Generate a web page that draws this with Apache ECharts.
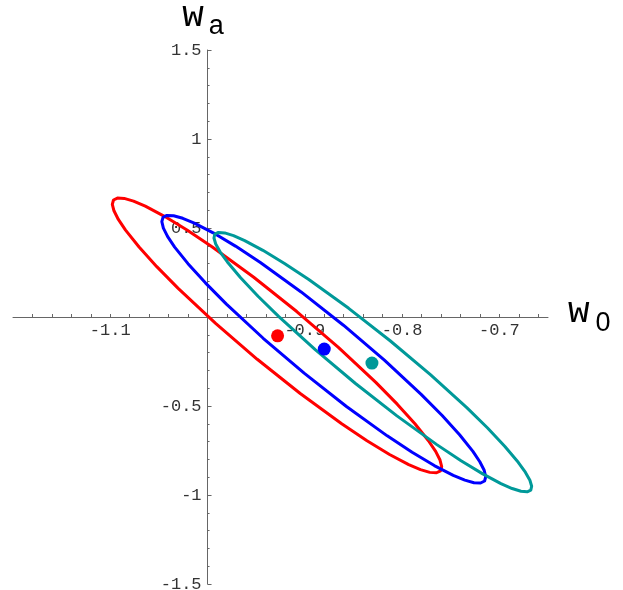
<!DOCTYPE html>
<html>
<head>
<meta charset="utf-8">
<script src="https://cdn.jsdelivr.net/npm/echarts@6/dist/echarts.min.js"></script>
<style>
  html, body { margin: 0; padding: 0; background: #fff; }
  #chart { width: 623px; height: 590px; }
</style>
</head>
<body>
<div id="chart"></div>
<script>
// axis ranges and ticks
const xMin = -1.2, xMax = -0.65
const yMin = -1.5, yMax = 1.5
const xTickLabels = [-1.1, -0.9, -0.8, -0.7]
const yTickLabels = [-1.5, -1, -0.5, 0.5, 1, 1.5]

// contours in the (w0, wa) plane
const redContour = [
    [-0.9489, -0.2376], [-0.9917, -0.0361], [-1.0302, 0.1607], [-1.0522, 0.2828],
    [-1.0704, 0.3931], [-1.0843, 0.4883], [-1.0917, 0.5480], [-1.0962, 0.5967],
    [-1.0979, 0.6333], [-1.0967, 0.6573], [-1.0926, 0.6683], [-1.0857, 0.6661],
    [-1.0761, 0.6508], [-1.0640, 0.6225], [-1.0443, 0.5656], [-1.0211, 0.4884],
    [-0.9951, 0.3932], [-0.9525, 0.2231], [-0.9083, 0.0308], [-0.8655, -0.1707],
    [-0.8270, -0.3675], [-0.8050, -0.4896], [-0.7868, -0.5999], [-0.7729, -0.6951],
    [-0.7655, -0.7548], [-0.7610, -0.8035], [-0.7593, -0.8401], [-0.7605, -0.8641],
    [-0.7646, -0.8751], [-0.7715, -0.8729], [-0.7811, -0.8576], [-0.7932, -0.8293],
    [-0.8129, -0.7724], [-0.8361, -0.6952], [-0.8621, -0.6000], [-0.9047, -0.4299],
    [-0.9489, -0.2376]
]
const blueContour = [
    [-0.9007, -0.3157], [-0.9428, -0.1195], [-0.9806, 0.0726], [-1.0022, 0.1918],
    [-1.0201, 0.2996], [-1.0338, 0.3929], [-1.0410, 0.4516], [-1.0454, 0.4994],
    [-1.0470, 0.5356], [-1.0458, 0.5595], [-1.0418, 0.5708], [-1.0349, 0.5692],
    [-1.0255, 0.5547], [-1.0136, 0.5277], [-0.9942, 0.4729], [-0.9713, 0.3983],
    [-0.9457, 0.3060], [-0.9038, 0.1409], [-0.8603, -0.0461], [-0.8182, -0.2423],
    [-0.7804, -0.4344], [-0.7588, -0.5536], [-0.7409, -0.6614], [-0.7272, -0.7547],
    [-0.7201, -0.8134], [-0.7156, -0.8612], [-0.7140, -0.8974], [-0.7152, -0.9213],
    [-0.7193, -0.9326], [-0.7261, -0.9310], [-0.7355, -0.9165], [-0.7474, -0.8895],
    [-0.7669, -0.8347], [-0.7897, -0.7601], [-0.8153, -0.6678], [-0.8572, -0.5027],
    [-0.9007, -0.3157]
]
const tealContour = [
    [-0.8479, -0.3735], [-0.8893, -0.1833], [-0.9267, 0.0021], [-0.9481, 0.1168],
    [-0.9660, 0.2203], [-0.9796, 0.3093], [-0.9870, 0.3650], [-0.9916, 0.4101],
    [-0.9934, 0.4439], [-0.9925, 0.4657], [-0.9888, 0.4752], [-0.9824, 0.4723],
    [-0.9733, 0.4569], [-0.9618, 0.4294], [-0.9431, 0.3747], [-0.9209, 0.3008],
    [-0.8959, 0.2102], [-0.8549, 0.0487], [-0.8123, -0.1333], [-0.7709, -0.3235],
    [-0.7335, -0.5089], [-0.7121, -0.6236], [-0.6943, -0.7271], [-0.6806, -0.8161],
    [-0.6733, -0.8718], [-0.6686, -0.9169], [-0.6668, -0.9507], [-0.6677, -0.9725],
    [-0.6714, -0.9820], [-0.6778, -0.9791], [-0.6869, -0.9637], [-0.6984, -0.9362],
    [-0.7171, -0.8815], [-0.7394, -0.8076], [-0.7643, -0.7170], [-0.8053, -0.5555],
    [-0.8479, -0.3735]
]

// best fit points
const redBest = [-0.928, -0.106]
const blueBest = [-0.880, -0.180]
const tealBest = [-0.831, -0.259]

const gridLeft = 13, gridRight = 75, gridTop = 50, gridBottom = 6
const plotWidth = 623 - gridLeft - gridRight
const plotHeight = 590 - gridTop - gridBottom

// small ticks every 0.02 along w0
let xTicks = []
for (let v = -118; v <= -66; v += 2) xTicks.push(v / 100)

const tickFont = {
    fontFamily: 'Liberation Mono',
    fontSize: 17,
    color: '#333'
}
const axisGray = '#666'

let chart = echarts.init(document.getElementById('chart'))

const option = {
    animation: false,
    backgroundColor: '#fff',
    grid: {
        left: gridLeft,
        right: gridRight,
        top: gridTop,
        bottom: gridBottom,
        containLabel: false,
        outerBoundsMode: 'none'
    },
    xAxis: {
        type: 'value',
        min: xMin,
        max: xMax,
        interval: 0.1,
        position: 'bottom',
        // axes cross at (-1, 0) like the original
        offset: -plotHeight * (0 - yMin) / (yMax - yMin),
        name: '{w|w}{s|0}',
        nameLocation: 'end',
        nameGap: 20,
        nameTextStyle: {
            padding: [6, 0, 0, 0],
            rich: {
                w: { fontFamily: 'Liberation Mono', fontSize: 36, color: '#000', verticalAlign: 'bottom', padding: [0, 0, 16, 0] },
                s: { fontFamily: 'Liberation Sans', fontSize: 27, color: '#000', verticalAlign: 'bottom', padding: [0, 0, 9, 6] }
            }
        },
        axisLine: { onZero: false, lineStyle: { color: axisGray, width: 1 } },
        axisTick: { inside: true, length: 3, customValues: xTicks, lineStyle: { color: axisGray } },
        axisLabel: { customValues: xTickLabels, margin: 5, ...tickFont },
        splitLine: { show: false }
    },
    yAxis: {
        type: 'value',
        min: yMin,
        max: yMax,
        interval: 0.5,
        position: 'left',
        offset: -plotWidth * (-1 - xMin) / (xMax - xMin),
        name: '{w|w}{s|a}',
        nameLocation: 'end',
        nameGap: 10,
        nameTextStyle: {
            rich: {
                w: { fontFamily: 'Liberation Mono', fontSize: 36, color: '#000', verticalAlign: 'bottom', padding: [0, 0, 6, 0] },
                s: { fontFamily: 'Liberation Sans', fontSize: 27, color: '#000', verticalAlign: 'bottom', padding: [0, 9, 0, 5] }
            }
        },
        axisLine: { onZero: false, lineStyle: { color: axisGray, width: 1 } },
        axisTick: { inside: true, length: 4, lineStyle: { color: axisGray } },
        minorTick: { show: true, splitNumber: 5, length: 2, lineStyle: { color: axisGray } },
        axisLabel: { customValues: yTickLabels, margin: 6, ...tickFont },
        splitLine: { show: false }
    },
    series: [
        {
            name: 'red',
            type: 'line',
            data: redContour,
            showSymbol: false,
            lineStyle: { color: '#ff0000', width: 3, join: 'round' }
        }, {
            name: 'blue',
            type: 'line',
            data: blueContour,
            showSymbol: false,
            lineStyle: { color: '#0000ff', width: 3, join: 'round' }
        }, {
            name: 'teal',
            type: 'line',
            data: tealContour,
            showSymbol: false,
            lineStyle: { color: '#009999', width: 3, join: 'round' }
        }, {
            type: 'scatter',
            symbolSize: 13,
            z: 5,
            itemStyle: { opacity: 1 },
            data: [
                { value: redBest, itemStyle: { color: '#ff0000' } },
                { value: blueBest, itemStyle: { color: '#0000ff' } },
                { value: tealBest, itemStyle: { color: '#009999' } }
            ]
        }
    ]
}
chart.setOption(option)
</script>
</body>
</html>
